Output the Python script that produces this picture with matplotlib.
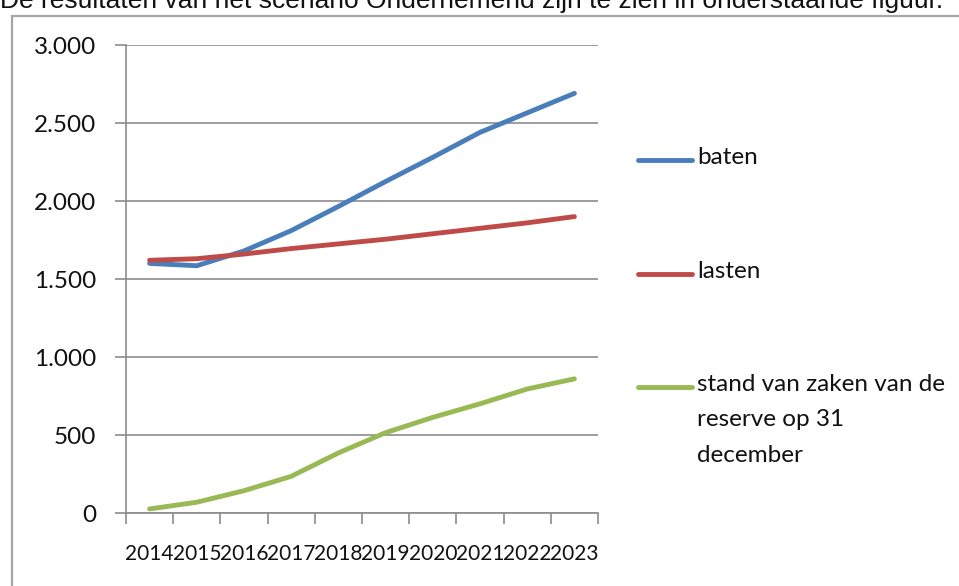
import matplotlib
matplotlib.use('Agg')
import matplotlib.pyplot as plt
from matplotlib.lines import Line2D
from matplotlib.patches import Rectangle
from matplotlib.transforms import ScaledTranslation

# data
years = ['2014', '2015', '2016', '2017', '2018', '2019', '2020', '2021', '2022', '2023']
baten = [1600, 1585, 1680, 1810, 1965, 2125, 2280, 2440, 2565, 2690]
lasten = [1620, 1630, 1660, 1695, 1725, 1755, 1790, 1825, 1860, 1900]
reserve = [26, 69, 143, 235, 385, 515, 613, 700, 795, 860]
labels = ['baten', 'lasten', 'stand van zaken van de\nreserve op 31\ndecember']
colors = ['#4A7EBB', '#BE4B48', '#98B954']

W, H = 959, 586
fig = plt.figure(figsize=(W / 100, H / 100), dpi=100)
font = 'Lato'
grey = '#8c8c8c'
ink = '#111111'

# caption at the top, partly cut off (as in the original screenshot)
fig.text(0, 1 - 8 / H, 'De resultaten van het scenario Ondernemend zijn te zien in onderstaande figuur.',
         fontsize=19, family='Liberation Sans', va='baseline', ha='left', color=ink)

# frame around the chart
fig.add_artist(Rectangle((12 / W, -0.1), 1.2, 1 - 16 / H + 0.1, transform=fig.transFigure,
                         fill=False, edgecolor='#a6a6a6', linewidth=1.6))

ax = fig.add_axes([126 / W, 1 - 513 / H, (598 - 126) / W, (513 - 45) / H])
x = list(range(len(years)))
series = [baten, lasten, reserve]
for vals, c, lab in zip(series, colors, labels):
    ax.plot(x, vals, color=c, linewidth=3.5, solid_capstyle='round', label=lab)

ax.set_xlim(-0.5, 9.5)
ax.set_ylim(0, 3000)
ax.set_yticks(range(0, 3001, 500))
ax.set_yticklabels(['0', '500', '1.000', '1.500', '2.000', '2.500', '3.000'])
ax.set_xticks([i - 0.5 for i in range(11)])
ax.set_xticklabels([])
ax.set_xticks(x, minor=True)
ax.set_xticklabels(years, minor=True)
ax.tick_params(axis='x', which='minor', length=0, pad=22, labelsize=15)
ax.tick_params(axis='x', which='major', length=8, color=grey, width=1.2)
ax.tick_params(axis='y', length=8, color=grey, width=1.2, pad=13.5, labelsize=17.5)
for lbl in ax.get_xticklabels(minor=True) + ax.get_yticklabels():
    lbl.set_family(font)
    lbl.set_color(ink)
ax.grid(axis='y', color=grey, linewidth=1.2)
ax.set_axisbelow(True)
for s in ['top', 'right']:
    ax.spines[s].set_visible(False)
for s in ['left', 'bottom']:
    ax.spines[s].set_color(grey)
    ax.spines[s].set_linewidth(1.2)

# legend drawn by hand, Excel style (marker line beside first text line)
leg_y = [160, 274, 387]
shift = ScaledTranslation(0, 13 / 100, fig.dpi_scale_trans)
for lab, c, yy in zip(labels, colors, leg_y):
    fy = 1 - yy / H
    fig.add_artist(Line2D([638 / W, 692 / W], [fy, fy], transform=fig.transFigure,
                          color=c, linewidth=3.5, solid_capstyle='round'))
    fig.text(697 / W, fy, lab, fontsize=17.5, family=font, va='top', ha='left',
             color=ink, linespacing=1.85, transform=fig.transFigure + shift)

fig.savefig('out.png', dpi=100)
